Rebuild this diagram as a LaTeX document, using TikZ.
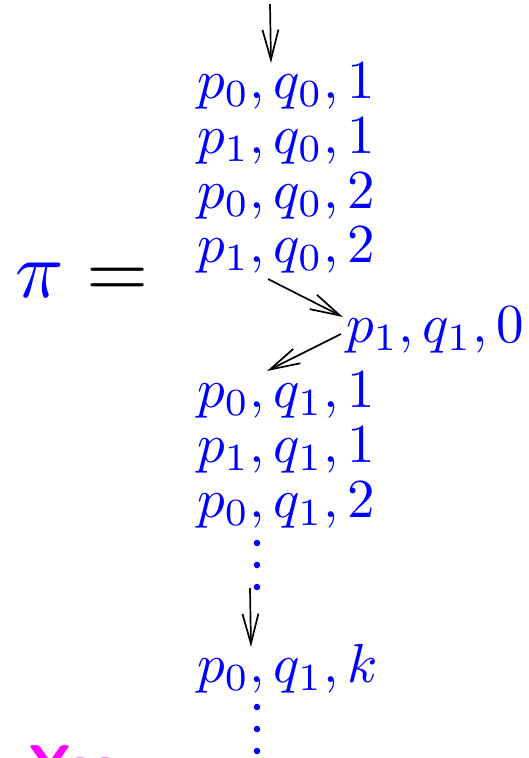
\documentclass[tikz,border=0pt]{standalone}
\usetikzlibrary{arrows.meta}
\definecolor{mag}{RGB}{255,0,255}
\definecolor{pblue}{RGB}{0,0,255}
\begin{document}
\begin{tikzpicture}[x=1pt,y=-1pt,
  row/.style={anchor=base west,inner sep=0pt,text=pblue,scale=5.5,transform shape},
  arr/.style={draw=black,line width=1.7pt,-{Straight Barb[length=30pt,width=16pt,line width=1.7pt]}},
  dotc/.style={circle,fill=pblue,inner sep=0pt,minimum size=6.5pt}]
\useasboundingbox (0,0) rectangle (529,758);
\clip (0,0) rectangle (529,758);
\node[row] (r1) at (196,98) {$p_0, q_0, 1$};
\node[row] (r2) at (196,153) {$p_1, q_0, 1$};
\node[row] (r3) at (196,208) {$p_0, q_0, 2$};
\node[row] (r4) at (196,262) {$p_1, q_0, 2$};
\node[row] (r5) at (345,342) {$p_1, q_1, 0$};
\node[row] (r6) at (196,407) {$p_0, q_1, 1$};
\node[row] (r7) at (196,462) {$p_1, q_1, 1$};
\node[row] (r8) at (196,517) {$p_0, q_1, 2$};
\node[row] (r9) at (196,682) {$p_0, q_1, k$};
\node[anchor=base west,inner sep=0pt,scale=8,transform shape] (pi) at (14,297) {$\color{pblue}\pi\color{black} = $};
\node[anchor=base west,inner sep=0pt,text=mag,scale=5.6,transform shape,font=\sffamily\bfseries] (yes) at (28,784) {Yes};
\coordinate (t0) at (270,4);
\coordinate (t1) at (271,63);
\draw[arr] (t0) -- (t1);
\coordinate (d0) at (268,279);
\coordinate (d1) at (343,317);
\draw[arr] (d0) -- (d1);
\coordinate (e0) at (341,334);
\coordinate (e1) at (267,371);
\draw[arr] (e0) -- (e1);
\coordinate (f0) at (250,588);
\coordinate (f1) at (251,647);
\draw[arr] (f0) -- (f1);
\foreach \y [count=\i] in {543,565,587} \node[dotc] (da\i) at (257,\y) {};
\foreach \y [count=\i] in {707,729,751} \node[dotc] (db\i) at (257,\y) {};
\end{tikzpicture}
\end{document}
